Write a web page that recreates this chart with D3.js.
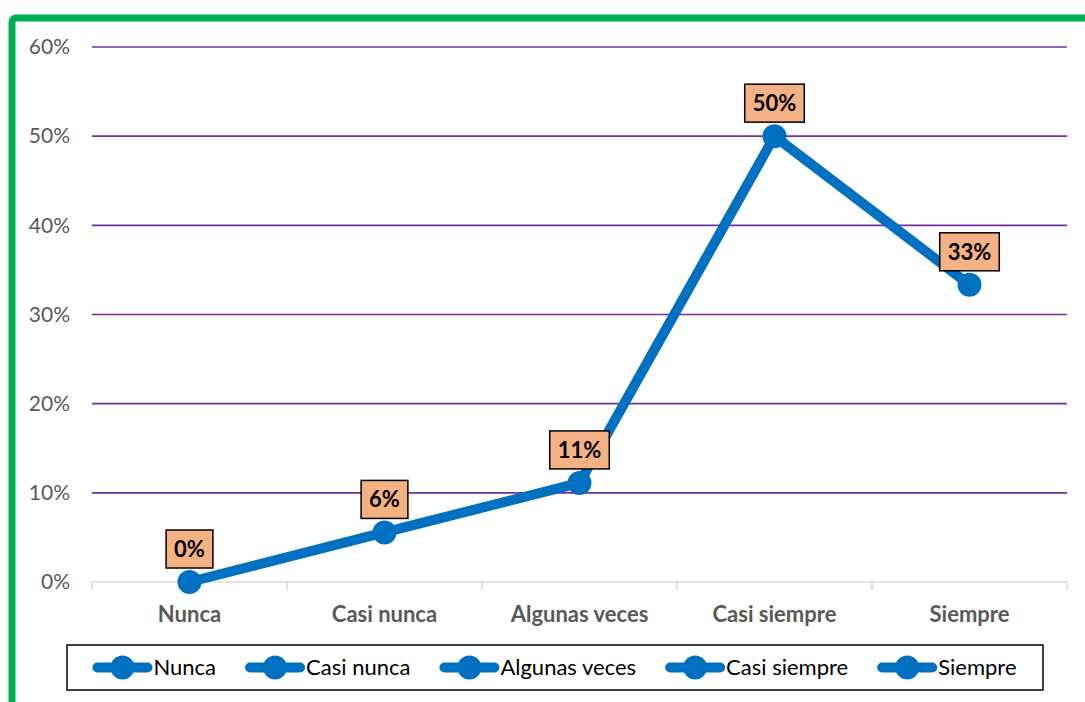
<!DOCTYPE html>
<html>
<head>
<meta charset="utf-8">
<script src="https://cdn.jsdelivr.net/npm/d3@7"></script>
<style>
  html, body { margin: 0; padding: 0; background: #fff; }
  svg { display: block; }
</style>
</head>
<body>
<svg id="chart" width="1085" height="702"></svg>
<script>
// Response frequencies per answer option (share of respondents)
const categories = ["Nunca", "Casi nunca", "Algunas veces", "Casi siempre", "Siempre"];
const shares = [0, 0.0556, 0.1111, 0.5, 0.3333];
const shareLabels = ["0%", "6%", "11%", "50%", "33%"];
const yTicks = [0, 0.1, 0.2, 0.3, 0.4, 0.5, 0.6];

const FONT = "Lato, 'Open Sans', sans-serif";
const BLUE = "#0070C0";
const svg = d3.select("#chart");

// Outer frame (green)
svg.append("rect")
  .attr("x", 12).attr("y", 18)
  .attr("width", 1200).attr("height", 800)
  .attr("rx", 4)
  .attr("fill", "none")
  .attr("stroke", "#00B050")
  .attr("stroke-width", 7);

const plot = { left: 92, right: 1067, top: 47, bottom: 582 };

const x = d3.scaleBand().domain(categories).range([plot.left, plot.right]).padding(0);
const y = d3.scaleLinear().domain([0, 0.6]).range([plot.bottom, plot.top]);

// Horizontal gridlines
svg.append("g")
  .selectAll("line")
  .data(yTicks.filter(d => d > 0))
  .join("line")
  .attr("x1", plot.left).attr("x2", plot.right)
  .attr("y1", d => y(d)).attr("y2", d => y(d))
  .attr("stroke", "#7030A0")
  .attr("stroke-width", 1.6);

// Y axis labels
const yAxis = svg.append("g")
  .attr("transform", `translate(${plot.left},0)`)
  .call(d3.axisLeft(y).tickValues(yTicks).tickFormat(d3.format(".0%")).tickSize(0).tickPadding(22));
yAxis.select(".domain").remove();
yAxis.selectAll("text")
  .attr("font-family", FONT)
  .attr("font-size", 21)
  .attr("fill", "#595959");

// X axis with category boundaries
const xAxisG = svg.append("g").attr("transform", `translate(0,${plot.bottom})`);
xAxisG.append("line")
  .attr("x1", plot.left).attr("x2", plot.right)
  .attr("stroke", "#D9D9D9").attr("stroke-width", 1.5);
const bounds = categories.map(c => x(c)).concat([plot.right]);
xAxisG.selectAll("line.tick")
  .data(bounds)
  .join("line")
  .attr("class", "tick")
  .attr("x1", d => d).attr("x2", d => d)
  .attr("y1", 0).attr("y2", 8)
  .attr("stroke", "#D9D9D9").attr("stroke-width", 1.5);
xAxisG.selectAll("text")
  .data(categories)
  .join("text")
  .attr("x", d => x(d) + x.bandwidth() / 2)
  .attr("y", 40)
  .attr("text-anchor", "middle")
  .attr("font-family", FONT)
  .attr("font-size", 22)
  .attr("font-weight", "bold")
  .attr("fill", "#595959")
  .text(d => d);

// Series line and markers
const pts = categories.map((c, i) => ({ c, v: shares[i], label: shareLabels[i] }));
const cx = d => x(d.c) + x.bandwidth() / 2;

svg.append("path")
  .datum(pts)
  .attr("fill", "none")
  .attr("stroke", BLUE)
  .attr("stroke-width", 10)
  .attr("stroke-linejoin", "round")
  .attr("d", d3.line().x(cx).y(d => y(d.v)));

svg.append("g")
  .selectAll("circle")
  .data(pts)
  .join("circle")
  .attr("cx", cx).attr("cy", d => y(d.v))
  .attr("r", 12)
  .attr("fill", BLUE);

// Value callouts
const labelG = svg.append("g")
  .selectAll("g")
  .data(pts)
  .join("g")
  .attr("transform", d => `translate(${cx(d)},${y(d.v) - 33})`);
labelG.append("text")
  .attr("text-anchor", "middle")
  .attr("dy", "0.36em")
  .attr("font-family", FONT)
  .attr("font-size", 22)
  .attr("font-weight", "bold")
  .attr("fill", "#000")
  .text(d => d.label);
labelG.each(function () {
  const g = d3.select(this);
  const bb = g.select("text").node().getBBox();
  g.insert("rect", "text")
    .attr("x", bb.x - 8).attr("y", -19)
    .attr("width", bb.width + 16).attr("height", 38)
    .attr("fill", "#F4B183")
    .attr("stroke", "#000")
    .attr("stroke-width", 1.5);
});

// Legend
const legend = { x: 67, y: 645, w: 976, h: 45 };
svg.append("rect")
  .attr("x", legend.x).attr("y", legend.y)
  .attr("width", legend.w).attr("height", legend.h)
  .attr("fill", "#fff")
  .attr("stroke", "#000")
  .attr("stroke-width", 1.5);

const items = svg.append("g")
  .selectAll("g")
  .data(categories)
  .join("g");
items.append("text")
  .attr("x", 60)
  .attr("y", 0)
  .attr("dy", "0.35em")
  .attr("font-family", FONT)
  .attr("font-size", 22)
  .attr("fill", "#000")
  .text(d => d);
const widths = items.nodes().map(n => 60 + d3.select(n).select("text").node().getComputedTextLength());
const gap = 30;
const total = d3.sum(widths) + gap * (widths.length - 1);
let cursor = legend.x + (legend.w - total) / 2;
const cy = legend.y + legend.h / 2;
items.each(function (d, i) {
  d3.select(this).attr("transform", `translate(${cursor},${cy})`);
  cursor += widths[i] + gap;
});
items.insert("line", "text")
  .attr("x1", 4).attr("x2", 54)
  .attr("stroke", BLUE).attr("stroke-width", 10)
  .attr("stroke-linecap", "round");
items.insert("circle", "text")
  .attr("cx", 29).attr("r", 12)
  .attr("fill", BLUE);
</script>
</body>
</html>
